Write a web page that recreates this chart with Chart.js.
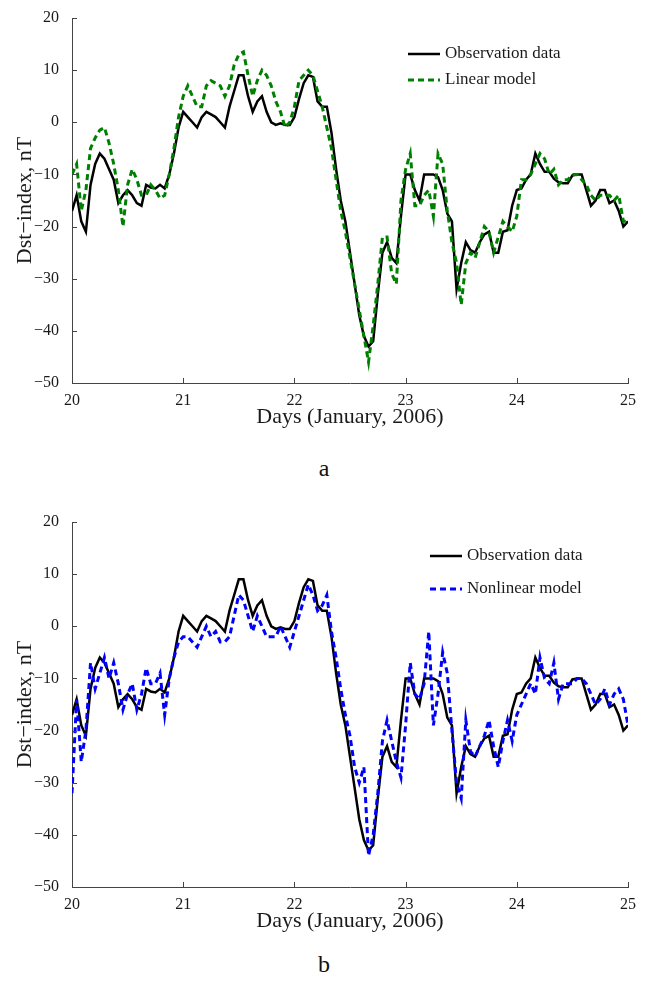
<!DOCTYPE html>
<html>
<head>
<meta charset="utf-8">
<script src="https://cdn.jsdelivr.net/npm/chart.js@4.4.1/dist/chart.umd.min.js"></script>
<style>
  body { margin: 0; background: #fff; width: 648px; height: 985px; position: relative; overflow: hidden; font-family: "Liberation Serif", serif; }
  .panel { position: absolute; left: 0; width: 648px; height: 440px; }
  .cap { position: absolute; left: 0; width: 648px; text-align: center; font-size: 24px; color: #111; }
</style>
</head>
<body>
<div class="panel" style="top:0"><canvas id="chartA" width="648" height="440"></canvas></div>
<div class="cap" style="top:455px">a</div>
<div class="panel" style="top:504px"><canvas id="chartB" width="648" height="440"></canvas></div>
<div class="cap" style="top:951px">b</div>
<script>
// hourly Dst values, 20 Jan 00h -> 25 Jan 00h
const startDay = 20;
const dayTicks = [20, 21, 22, 23, 24, 25];
const dstTicks = [-50, -40, -30, -20, -10, 0, 10, 20];

const observation = [
  -17, -14, -19, -21, -12, -8, -6, -7, -9, -11,
  -15.5, -14, -13, -14, -15.5, -16, -12, -12.5, -12.7, -12,
  -12.7, -10, -6, -1, 2, 1, 0, -1, 1, 2,
  1.5, 1, 0, -1, 3, 6, 9, 9, 5, 2,
  4, 5, 2, 0, -0.5, -0.2, -0.5, -0.5, 1, 4.5,
  7.5, 9, 8.7, 4, 3, 3, -2, -9, -15, -19,
  -25, -31, -37, -41, -43, -42, -33, -25, -23, -26,
  -27, -18, -10, -10, -13, -15, -10, -10, -10, -10.5,
  -13, -17.5, -19, -32, -27, -23, -24.5, -25, -23, -21.5,
  -21, -25, -25, -21, -20.7, -16, -13, -12.7, -11, -10,
  -6, -8, -9.5, -9.5, -10.8, -11.5, -11.7, -11.7, -10.2, -10,
  -10, -13, -16, -15, -13, -13, -15.5, -15, -17, -20,
  -19
];

const linearModel = [
  -10, -8, -17, -13, -5, -3, -1.5, -1, -4, -8,
  -13, -20, -12, -9, -11, -14, -14, -12, -13, -14.6,
  -14, -10, -5, 1, 5, 7, 5, 3, 3, 7,
  8, 7.5, 7, 5, 7, 11, 13, 13.5, 9, 5,
  8, 10, 9, 7, 4, 2, -1, 0, 3, 8,
  9, 10, 9, 6, 3, -1, -5, -11, -17, -21,
  -26, -31, -36, -41, -46, -39, -31, -22, -22, -29,
  -31, -15, -9, -6, -16, -16, -14, -13, -18, -6,
  -8, -17, -23, -27, -35, -27, -25, -26, -23, -20,
  -21, -25, -22, -19, -20, -21, -18, -11, -11, -10,
  -8, -6, -7, -10, -9, -12, -11, -11, -10, -10,
  -11, -12, -14, -15, -14, -14, -14, -15, -14, -19,
  -19
];

const nonlinearModel = [
  -32, -14, -26, -20, -7, -12, -9, -6, -10, -7,
  -11, -16, -13, -11, -16, -13, -8, -11, -11, -9,
  -17, -10, -6, -3, -2, -2, -3, -4, -2, 0,
  -2, -1, -3, -3, -2, 2, 6, 5, 2, -1,
  2, 0, -2, -2, -2, 0, -2, -4, -1, 2,
  5, 8, 6, 3, 4, 6, -1, -6, -12, -17,
  -21, -27, -30, -27, -44, -40, -32, -22, -18, -22,
  -26, -29, -19, -7, -13, -14, -11, -1, -19, -13,
  -5, -9, -20, -30, -33, -18, -24, -25, -23, -21,
  -18, -23, -27, -22, -18, -22, -17, -15, -13, -11,
  -13, -6, -10, -11, -7, -14, -11, -11, -11, -10,
  -10, -11, -13, -15, -14, -12, -15, -13, -12, -14,
  -19
];

const serif = '"Liberation Serif", "Times New Roman", serif';
const toPoints = vals => vals.map((v, i) => ({ x: startDay + i / 24, y: v }));
const minus = v => String(v).replace('-', '\u2212');

// inward tick marks + legend drawn inside the axes, MATLAB style
const matlabAxes = {
  id: 'matlabAxes',
  afterDraw(chart, args, opts) {
    const { ctx, chartArea: a, scales: { x, y } } = chart;
    ctx.save();
    ctx.strokeStyle = '#444';
    ctx.lineWidth = 1;
    ctx.beginPath();
    dayTicks.forEach(v => {
      const px = Math.round(x.getPixelForValue(v)) + 0.5;
      ctx.moveTo(px, a.bottom);
      ctx.lineTo(px, a.bottom - 5);
    });
    dstTicks.forEach(v => {
      const py = Math.round(y.getPixelForValue(v)) + 0.5;
      ctx.moveTo(a.left, py);
      ctx.lineTo(a.left + 5, py);
    });
    ctx.stroke();

    ctx.font = '17px ' + serif;
    ctx.textBaseline = 'middle';
    chart.data.datasets.forEach((ds, i) => {
      const yy = a.top + opts.top + i * opts.gap;
      const x0 = a.left + opts.left;
      ctx.strokeStyle = ds.borderColor;
      ctx.lineWidth = ds.borderWidth;
      ctx.setLineDash(ds.borderDash || []);
      ctx.beginPath();
      ctx.moveTo(x0, yy);
      ctx.lineTo(x0 + 32, yy);
      ctx.stroke();
      ctx.setLineDash([]);
      ctx.fillStyle = '#1a1a1a';
      ctx.fillText(ds.label, x0 + 37, yy);
    });
    ctx.restore();
  }
};

function makeChart(id, modelLabel, modelValues, modelColor, legendPos) {
  return new Chart(document.getElementById(id), {
    type: 'line',
    data: {
      datasets: [
        {
          label: 'Observation data',
          data: toPoints(observation),
          borderColor: '#000',
          borderWidth: 2.5,
          pointRadius: 0,
          tension: 0,
          order: 2
        },
        {
          label: modelLabel,
          data: toPoints(modelValues),
          borderColor: modelColor,
          borderWidth: 3,
          borderDash: [6, 4],
          pointRadius: 0,
          tension: 0,
          order: 1
        }
      ]
    },
    options: {
      responsive: false,
      animation: false,
      layout: { padding: { top: 18, right: 20, left: 0, bottom: 0 } },
      plugins: {
        legend: { display: false },
        tooltip: { enabled: false },
        matlabAxes: legendPos
      },
      scales: {
        x: {
          type: 'linear',
          min: 20,
          max: 25,
          grid: { display: false },
          border: { display: true, color: '#444', width: 1 },
          afterBuildTicks: s => { s.ticks = dayTicks.map(v => ({ value: v })); },
          afterFit: s => { s.height = 57; },
          ticks: { font: { family: serif, size: 16 }, color: '#1a1a1a', padding: 0, maxRotation: 0 },
          title: {
            display: true,
            text: 'Days (January, 2006)',
            font: { family: serif, size: 22 },
            color: '#1a1a1a',
            padding: { top: 0, bottom: 10 }
          }
        },
        y: {
          min: -50,
          max: 20,
          grid: { display: false },
          border: { display: true, color: '#444', width: 1 },
          afterBuildTicks: s => { s.ticks = dstTicks.map(v => ({ value: v })); },
          afterFit: s => { s.width = 72; },
          ticks: { font: { family: serif, size: 16 }, color: '#1a1a1a', padding: 5, callback: minus },
          title: {
            display: true,
            text: 'Dst\u2212index, nT',
            font: { family: serif, size: 22 },
            color: '#1a1a1a',
            padding: { top: 12, bottom: 0 }
          }
        }
      }
    },
    plugins: [matlabAxes]
  });
}

makeChart('chartA', 'Linear model', linearModel, '#008000', { left: 336, top: 36, gap: 26 });
makeChart('chartB', 'Nonlinear model', nonlinearModel, '#0000ff', { left: 358, top: 34, gap: 33 });
</script>
</body>
</html>
